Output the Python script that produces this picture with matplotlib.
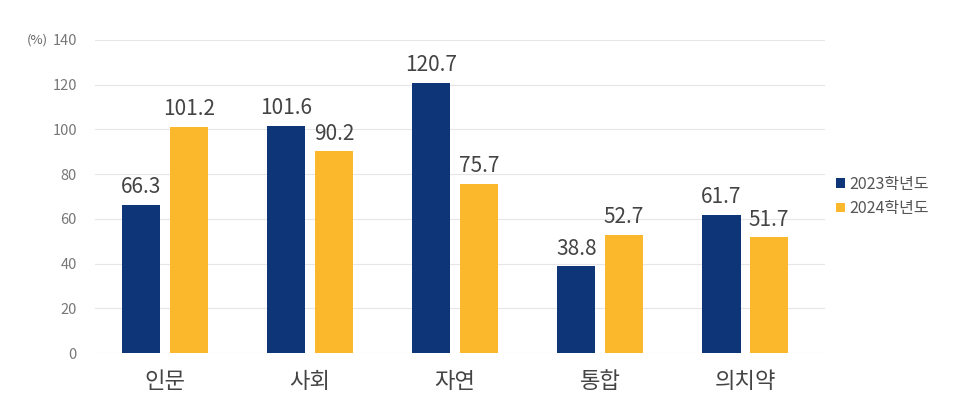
import numpy as np
import matplotlib
matplotlib.use("Agg")
import matplotlib.pyplot as plt

plt.rcParams['font.family'] = ['Noto Sans CJK KR', 'DejaVu Sans']

categories = ['인문', '사회', '자연', '통합', '의치약']
series_names = ['2023학년도', '2024학년도']
values_2023 = [66.3, 101.6, 120.7, 38.8, 61.7]
values_2024 = [101.2, 90.2, 75.7, 52.7, 51.7]
colors = ['#0e3578', '#fbb82c']

fig = plt.figure(figsize=(9.56, 3.98), dpi=100)
ax = fig.add_axes([0.0994, 0.113, 0.7636, 0.787])

x = np.arange(len(categories))
w = 0.265
off = 0.165
b1 = ax.bar(x - off, values_2023, w, color=colors[0], label=series_names[0], zorder=3)
b2 = ax.bar(x + off, values_2024, w, color=colors[1], label=series_names[1], zorder=3)

for bars, vals in ((b1, values_2023), (b2, values_2024)):
    for r, v in zip(bars, vals):
        ax.text(r.get_x() + r.get_width() / 2, v + 3.0, f'{v:.1f}',
                ha='center', va='bottom', fontsize=15, color='#444444')

ax.set_ylim(0, 140)
ax.set_xlim(-0.483, 4.55)
ax.set_yticks(range(0, 141, 20))
ax.set_xticks(x)
ax.set_xticklabels(categories, fontsize=16, color='#444444')
ax.tick_params(axis='y', length=0, labelsize=10.5, labelcolor='#777777', pad=13)
ax.tick_params(axis='x', length=0, pad=12)
ax.grid(axis='y', color='#e6e6e6', linewidth=0.8, zorder=0)
for s in ax.spines.values():
    s.set_visible(False)

ax.text(-0.064, 1.0, '(%)', transform=ax.transAxes, ha='right', va='center',
        fontsize=9.5, color='#666666')

ax.legend(loc='center left', bbox_to_anchor=(0.995, 0.5), frameon=False,
          fontsize=11.5, handlelength=0.55, handleheight=0.55, handletextpad=0.3,
          labelcolor='#555555', labelspacing=0.45)

fig.savefig('out.png', dpi=100)
